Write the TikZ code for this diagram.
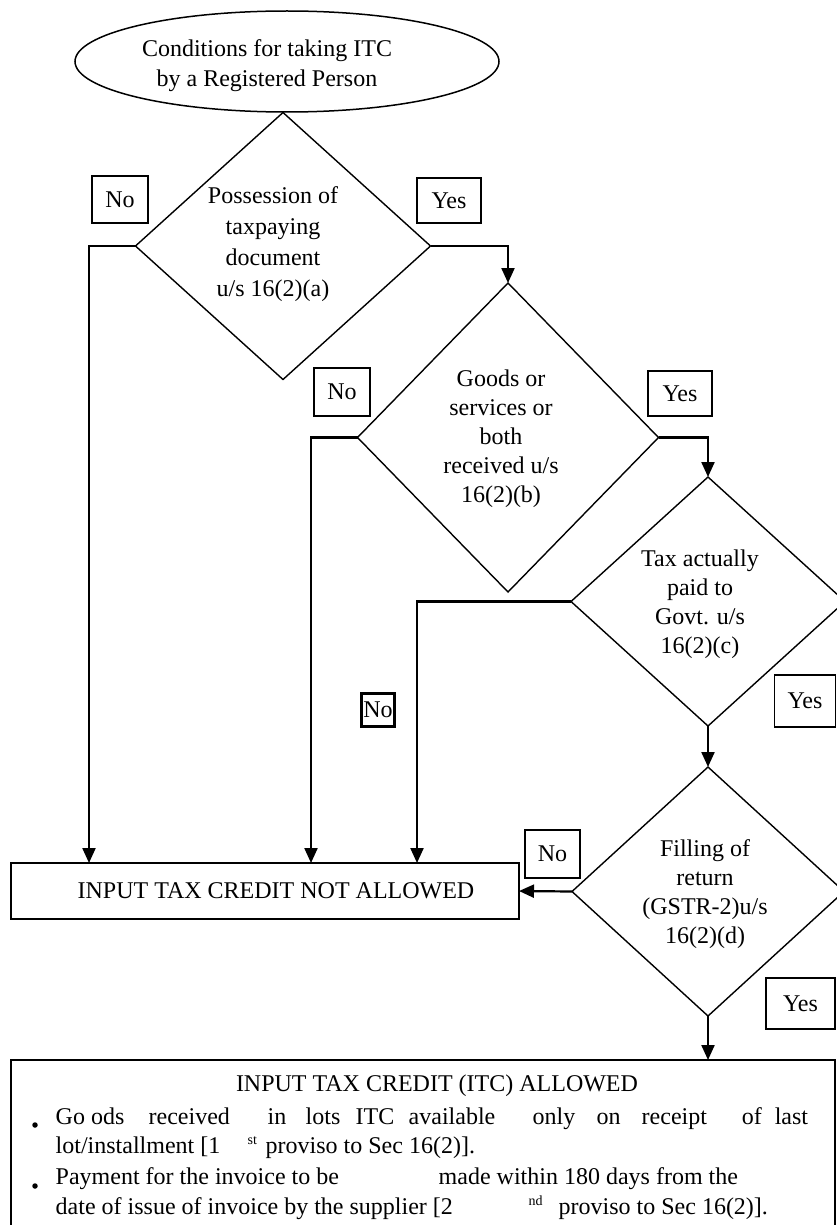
\documentclass[tikz,border=0pt]{standalone}
\usepackage{fontspec}
\setmainfont{Liberation Serif}
\usetikzlibrary{shapes.geometric,arrows.meta}
% place a word (or superscript) at a fixed offset from the start of a line
\newcommand\wordat[2]{\makebox[0pt][l]{\hspace*{#1pt}#2}}
\newcommand\supat[2]{\makebox[0pt][l]{\hspace*{#1pt}\raisebox{9pt}{\fontsize{14}{14}\selectfont #2}}}
\begin{document}
\begin{tikzpicture}[x=1pt,y=-1pt,
  txt/.style={font=\fontsize{24}{30}\selectfont, inner sep=0pt, align=center},
  line/.style={font=\fontsize{24}{30}\selectfont, inner sep=0pt, anchor=base west},
  decision/.style={draw, diamond, line width=1.4pt, inner sep=0pt, outer sep=0pt},
  start/.style={draw, ellipse, line width=1.5pt, inner sep=0pt, outer sep=0pt,
    minimum width=424pt, minimum height=101pt},
  result/.style={draw, rectangle, line width=1.8pt, inner sep=0pt, outer sep=0pt},
  tag/.style={draw, rectangle, line width=1.8pt, inner sep=0pt,
    font=\fontsize{24}{24}\selectfont},
  flow/.style={line width=2.2pt, -{Triangle[length=15pt,width=13pt]}},
  dot/.style={circle, fill, inner sep=0pt, minimum size=5.5pt}
]
\useasboundingbox (0,0) rectangle (837,1225);
\clip (0,0) rectangle (837,1225);

% start
\node[start] (start) at (287,61.5) {};
\node[txt] (starttext) at (267,66) {Conditions for taking ITC\\by a Registered Person};

% decisions
\node[decision, minimum width=295pt, minimum height=267pt] (d1) at (283,246) {};
\node[txt, font=\fontsize{24}{31}\selectfont] (d1text) at (273,244.5)
  {Possession of\\taxpaying\\document\\u/s 16(2)(a)};

\node[decision, minimum width=301pt, minimum height=309pt] (d2) at (508,437.5) {};
\node[txt, font=\fontsize{24}{29}\selectfont] (d2text) at (501,439)
  {Goods or\\services or\\both\\received u/s\\16(2)(b)};

\node[decision, minimum width=274pt, minimum height=249pt] (d3) at (708,601.5) {};
\node[txt, font=\fontsize{24}{29}\selectfont] (d3text) at (700,604.5)
  {Tax actually\\paid to\\Govt. u/s\\16(2)(c)};

\node[decision, minimum width=272pt, minimum height=249pt] (d4) at (708,891.5) {};
\node[txt, font=\fontsize{24}{29}\selectfont] (d4text) at (705,894.5)
  {Filling of\\return\\(GSTR-2)u/s\\16(2)(d)};

% outcomes
\node[result, minimum width=508pt, minimum height=56pt] (na) at (265,891) {};
\node[txt] (natext) at (276,891) {INPUT TAX CREDIT NOT ALLOWED};

\node[result, minimum width=824pt, minimum height=190pt, anchor=north west] (itc) at (11,1060) {};
\node[txt, anchor=base] (itctitle) at (437,1091) {INPUT TAX CREDIT (ITC) ALLOWED};

\node[dot] (b1) at (35,1125) {};
\node[line] (l1) at (55,1124) {\wordat{0}{Go ods}\wordat{93}{received}\wordat{212}{in}%
  \wordat{250}{lots}\wordat{300}{ITC}\wordat{353}{available}\wordat{477}{only}%
  \wordat{541}{on}\wordat{586}{receipt}\wordat{686}{of}\wordat{719}{last}};
\node[line] (l2) at (55,1153) {\wordat{0}{lot/installment [1}\supat{192}{st}%
  \wordat{210}{proviso to Sec 16(2)].}};
\node[dot] (b2) at (35,1186) {};
\node[line] (l3) at (55,1184) {\wordat{0}{Payment for the invoice to be}%
  \wordat{383}{made within 180 days from the}};
\node[line] (l4) at (55,1214) {\wordat{0}{date of issue of invoice by the supplier [2}%
  \supat{473}{nd}\wordat{503}{proviso to Sec 16(2)].}};

% yes / no tags
\node[tag, minimum width=56pt, minimum height=47pt] (no1) at (120,199.5) {No};
\node[tag, minimum width=64pt, minimum height=45pt] (yes1) at (449,200.5) {Yes};
\node[tag, minimum width=56pt, minimum height=48pt] (no2) at (342,392) {No};
\node[tag, minimum width=64pt, minimum height=45pt] (yes2) at (680,393.5) {Yes};
\node[tag, line width=3pt, minimum width=33pt, minimum height=33pt] (no3) at (378,709.5) {No};
\node[tag, minimum width=61pt, minimum height=52pt] (yes3) at (805,701) {Yes};
\node[tag, minimum width=55pt, minimum height=48pt] (no4) at (552.5,854) {No};
\node[tag, minimum width=69pt, minimum height=51pt] (yes4) at (800.5,1003.5) {Yes};

% drop lines towards the rejection box
\coordinate (c1) at (89,0);
\coordinate (c2) at (311,0);
\coordinate (c3) at (417,0);

% connectors
\draw[flow] (d1.west) -| (c1 |- na.north);
\draw[flow] (d1.east) -| (d2.north);
\draw[flow] (d2.west) -| (c2 |- na.north);
\draw[flow] (d2.east) -| (d3.north);
\draw[flow] (d3.west) -| (c3 |- na.north);
\draw[flow] (d3.south) -- (d4.north);
\draw[flow] (d4.west) -- (na.east);
\draw[flow] (d4.south) -- (d4.south |- itc.north);
\end{tikzpicture}
\end{document}
